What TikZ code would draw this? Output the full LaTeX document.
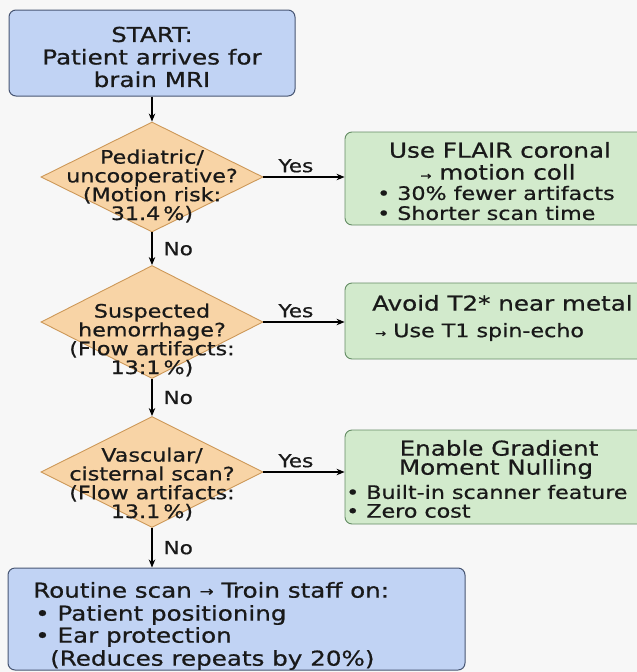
\documentclass[tikz,border=0pt]{standalone}
\usepackage{fontspec}
\setmainfont{DejaVu Sans}[FakeStretch=1.2,FakeBold=0.7]
\usetikzlibrary{shapes.geometric,arrows.meta}
\definecolor{bluefill}{RGB}{193,211,244}
\definecolor{blueline}{RGB}{72,86,115}
\definecolor{orfill}{RGB}{248,212,166}
\definecolor{orline}{RGB}{205,152,88}
\definecolor{grfill}{RGB}{210,234,204}
\definecolor{grline}{RGB}{100,140,100}
\definecolor{txt}{RGB}{25,25,25}
\begin{document}
\begin{tikzpicture}[x=1pt,y=-1pt,
  every node/.style={text=txt, inner sep=0pt},
  bluebox/.style={draw=blueline, fill=bluefill, rounded corners=7pt, line width=1pt},
  greenbox/.style={draw=grline, fill=grfill, rounded corners=7pt, line width=0.9pt},
  dia/.style={diamond, draw=orline, fill=orfill, line width=0.9pt},
  arr/.style={-{Stealth[length=8pt,width=6.5pt]}, line width=1.1pt, draw=black},
  lbl/.style={font=\fontsize{18}{18}\selectfont},
  bigtxt/.style={font=\fontsize{20.5}{22.5}\selectfont, align=center},
  dtxt/.style={font=\fontsize{18.5}{18.8}\selectfont, align=center},
  gtitle/.style={font=\fontsize{20.5}{21}\selectfont},
  gbul/.style={font=\fontsize{18.5}{20}\selectfont}
]
\useasboundingbox (0,0) rectangle (637,672);
\clip (0,0) rectangle (637,672);
\fill[white!97!black] (0,0) rectangle (637,672);

% start
\node[bluebox, minimum width=286pt, minimum height=86pt] (start) at (152,53) {};
\node[bigtxt] (starttxt) at (152,57) {START:\\Patient arrives for\\brain MRI};

% diamonds
\node[dia, minimum width=222pt, minimum height=110pt] (d1) at (152,177) {};
\node[dtxt] (d1txt) at (152,186) {Pediatric/\\uncooperative?\\(Motion risk:\\31.4\,\%)};
\node[dia, minimum width=222pt, minimum height=113pt] (d2) at (152,322) {};
\node[dtxt] (d2txt) at (152,340) {Suspected\\hemorrhage?\\(Flow artifacts:\\13:1\,\%)};
\node[dia, minimum width=222pt, minimum height=111pt] (d3) at (152,472) {};
\node[dtxt] (d3txt) at (152,484) {Vascular/\\cisternal scan?\\(Flow artifacts:\\13.1\,\%)};

% green boxes
\node[greenbox, minimum width=310pt, minimum height=93pt] (g1) at (500,178.5) {};
\node[gtitle] (g1a) at (500,150) {Use FLAIR coronal};
\node[gtitle] (g1b) at (498,172) {{\fontsize{11}{11}\selectfont →} motion coll};
\node[gbul, anchor=west] (g1c) at (377,193) {• 30\% fewer artifacts};
\node[gbul, anchor=west] (g1d) at (377,213) {• Shorter scan time};

\node[greenbox, minimum width=310pt, minimum height=76pt] (g2) at (500,321) {};
\node[gtitle, anchor=west] (g2a) at (372,303) {Avoid T2* near metal};
\node[gbul, anchor=west] (g2b) at (375,332) {{\fontsize{11}{11}\selectfont →} Use T1 spin-echo};

\node[greenbox, minimum width=310pt, minimum height=94pt] (g3) at (500,477) {};
\node[gtitle] (g3a) at (499,448) {Enable Gradient};
\node[gtitle] (g3b) at (496,469) {Moment Nulling};
\node[gbul, anchor=west] (g3c) at (346,492) {• Built-in scanner feature};
\node[gbul, anchor=west] (g3d) at (346,511) {• Zero cost};

% bottom box
\node[bluebox, minimum width=457pt, minimum height=102pt] (end) at (236.5,619) {};
\node[gtitle, anchor=west] (e1) at (33,590) {Routine scan {\fontsize{14}{14}\selectfont\raisebox{1.5pt}{→}} Troin staff on:};
\node[gtitle, anchor=west] (e2) at (35,615) {• Patient positioning};
\node[gtitle, anchor=west] (e3) at (35,637) {• Ear protection};
\node[gtitle, anchor=west] (e4) at (50,660) {(Reduces repeats by 20\%)};

% connectors
\draw[arr] (start.south) -- (d1.north);
\draw[arr] (d1.south) -- node[lbl, right=11pt]{No} (d2.north);
\draw[arr] (d2.south) -- node[lbl, right=11pt]{No} (d3.north);
\draw[arr] (d3.south) -- node[lbl, right=11pt]{No} (end.north -| d3.south);
\draw[arr] (d1.east) -- node[lbl, pos=0.4, above=4pt]{Yes} (d1.east -| g1.west);
\draw[arr] (d2.east) -- node[lbl, pos=0.4, above=4pt]{Yes} (d2.east -| g2.west);
\draw[arr] (d3.east) -- node[lbl, pos=0.4, above=4pt]{Yes} (d3.east -| g3.west);
\end{tikzpicture}
\end{document}
